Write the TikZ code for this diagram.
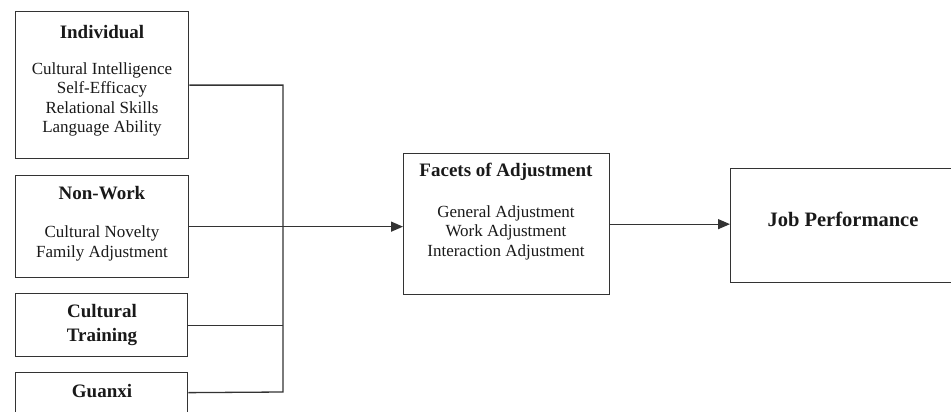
\documentclass[tikz,border=0pt]{standalone}
\usepackage{fontspec}
\setmainfont{Liberation Serif}
\usetikzlibrary{arrows.meta}
\begin{document}
\begin{tikzpicture}[x=1pt,y=-1pt,
  box/.style={draw=black!80,line width=1.3pt,inner sep=0pt,anchor=north west},
  ttl/.style={font=\fontsize{19}{23}\selectfont\bfseries,text=black!90,inner sep=0pt},
  body/.style={font=\fontsize{17}{19.5}\selectfont,text=black!90,align=center,inner sep=0pt},
  line/.style={draw=black!80,line width=1.3pt},
  arrow/.style={line,-{Triangle[length=12pt,width=10pt]}}]
\useasboundingbox (0,0) rectangle (951,412);
\clip (0,0) rectangle (951,412);
% boxes
\node[box,minimum width=173pt,minimum height=147pt] (ind) at (15,11) {};
\node[box,minimum width=173pt,minimum height=102pt] (nw) at (15,175) {};
\node[box,minimum width=172pt,minimum height=63pt] (ct) at (15,293) {};
\node[box,minimum width=172pt,minimum height=40pt] (gx) at (15,372) {};
\node[box,minimum width=206pt,minimum height=141pt] (fa) at (403,153) {};
\node[box,minimum width=230pt,minimum height=114pt] (jp) at (730,168) {};
% texts
\node[ttl] (indt) at (102,32) {Individual};
\node[body] (indb) at (102,99.5) {Cultural Intelligence\\Self-Efficacy\\Relational Skills\\Language Ability};
\node[ttl] (nwt) at (102,193) {Non-Work};
\node[body] (nwb) at (102,243.5) {Cultural Novelty\\Family Adjustment};
\node[ttl,align=center,font=\fontsize{19}{24}\selectfont\bfseries] (ctt) at (102,325) {Cultural\\Training};
\node[ttl] (gxt) at (102,391) {Guanxi};
\node[ttl] (fat) at (506,172) {Facets of Adjustment};
\node[body] (fab) at (506,232.5) {General Adjustment\\Work Adjustment\\Interaction Adjustment};
\node[ttl,font=\fontsize{20.5}{24}\selectfont\bfseries] (jpt) at (843,219) {Job Performance};
% connectors
\coordinate (bb) at (283,392);
\draw[line] (ind.east) -| (bb) -- (gx.east);
\draw[line] (ct.east) -- (ct.east -| bb);
\draw[arrow] (nw.east) -- (nw.east -| fa.west);
\draw[arrow] (fa.east) -- (fa.east -| jp.west);
\end{tikzpicture}
\end{document}
